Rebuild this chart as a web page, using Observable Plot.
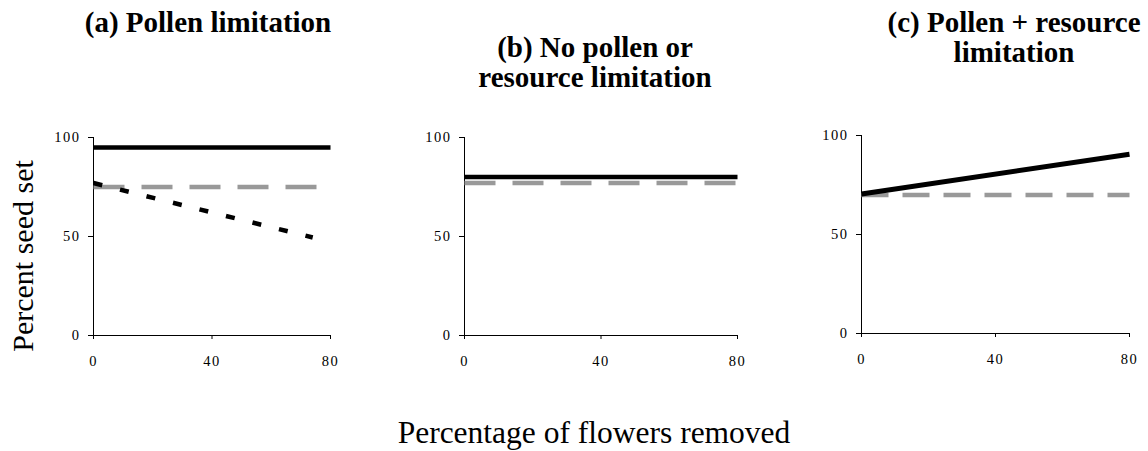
<!DOCTYPE html>
<html><head><meta charset="utf-8">
<script src="https://cdn.jsdelivr.net/npm/d3@7"></script>
<script src="https://cdn.jsdelivr.net/npm/@observablehq/plot@0.6"></script>
<style>
body{margin:0;background:#fff;}
#root{position:relative;width:1148px;height:451px;font-family:"Liberation Serif","Times New Roman",serif;color:#000;overflow:hidden;background:#fff}
.title{position:absolute;font-weight:bold;font-size:29px;line-height:30px;text-align:center;white-space:nowrap;transform:translateX(-50%)}
.axt{position:absolute;font-size:30px;line-height:30px;white-space:nowrap}
.panel{position:absolute}
#root svg text{font-family:"Liberation Serif","Times New Roman",serif !important;font-size:14.5px !important;letter-spacing:1.5px;fill:#000}
</style>
</head><body>
<div id="root">
  <div class="title" id="ta" style="left:208px;top:7px"></div>
  <div class="title" id="tb" style="left:595px;top:32px"></div>
  <div class="title" id="tc" style="left:1014px;top:7px"></div>
  <div class="axt" id="ylab" style="left:23px;top:256px;transform:translate(-50%,-50%) rotate(-90deg)"></div>
  <div class="axt" id="xlab" style="left:594px;top:418px;transform:translateX(-50%);font-size:31.5px"></div>
  <div class="panel" id="pa" style="left:0px;top:100px"></div>
  <div class="panel" id="pb" style="left:380px;top:100px"></div>
  <div class="panel" id="pc" style="left:780px;top:100px"></div>
</div>
<script>
// ---- data ----
const titles = ["(a) Pollen limitation", "(b) No pollen or\nresource limitation", "(c) Pollen + resource\nlimitation"];
const yTitle = "Percent seed set";
const xTitle = "Percentage of flowers removed";
const xTicks = [0, 40, 80];
const yTicks = [0, 50, 100];

// panel (a)
const aSolidX = [0, 80];   const aSolidY = [95, 95];
const aGrayX  = [0, 76];   const aGrayY  = [75, 75];
const aDashX  = [0, 74];   const aDashY  = [77, 49.5];
// panel (b)
const bSolidX = [0, 80];   const bSolidY = [80, 80];
const bGrayX  = [0, 79.5]; const bGrayY  = [77, 77];
// panel (c)
const cSolidX = [0, 80];   const cSolidY = [70.5, 90.5];
const cGrayX  = [0, 80];   const cGrayY  = [70, 70];

// ---- helpers ----
const pts = (xs, ys) => xs.map((x, i) => ({x, y: ys[i]}));
function setTitle(id, t){
  const el = document.getElementById(id);
  t.split("\n").forEach((line, i) => { if (i) el.appendChild(document.createElement("br")); el.appendChild(document.createTextNode(line)); });
}
setTitle("ta", titles[0]); setTitle("tb", titles[1]); setTitle("tc", titles[2]);
document.getElementById("ylab").textContent = yTitle;
document.getElementById("xlab").textContent = xTitle;

function panel(id, geom, series){
  const marks = [
    Plot.ruleY([0], {stroke: "#000", strokeWidth: 1}),
    Plot.ruleX([0], {stroke: "#000", strokeWidth: 1})
  ];
  for (const s of series) {
    marks.push(Plot.line(pts(s.x, s.y), {x: "x", y: "y", stroke: s.color, strokeWidth: s.width, strokeDasharray: s.dash, strokeLinecap: "butt"}));
  }
  const chart = Plot.plot({
    width: geom.width, height: geom.height,
    marginLeft: geom.ml, marginRight: geom.mr, marginTop: geom.mt, marginBottom: geom.mb,
    x: {domain: [0, 80], ticks: xTicks, tickSize: 4, tickPadding: 16, label: null},
    y: {domain: [0, 100], ticks: yTicks, tickSize: 5, tickPadding: 8, label: null},
    style: {fontFamily: "Liberation Serif, Times New Roman, serif", color: "#000", background: "transparent", overflow: "visible"},
    marks
  });
  document.getElementById(id).appendChild(chart);
}

panel("pa", {width: 350, height: 290, ml: 93, mr: 20, mt: 37, mb: 55}, [
  {x: aSolidX, y: aSolidY, color: "#000", width: 4.5},
  {x: aGrayX, y: aGrayY, color: "#999999", width: 4.5, dash: "31,17"},
  {x: aDashX, y: aDashY, color: "#000", width: 4.5, dash: "9,18.3"}
]);
panel("pb", {width: 380, height: 290, ml: 84, mr: 23, mt: 37, mb: 55}, [
  {x: bGrayX, y: bGrayY, color: "#999999", width: 4.5, dash: "31,17"},
  {x: bSolidX, y: bSolidY, color: "#000", width: 4.5}
]);
panel("pc", {width: 368, height: 290, ml: 81, mr: 19, mt: 35, mb: 57}, [
  {x: cGrayX, y: cGrayY, color: "#999999", width: 4.5, dash: "27,14"},
  {x: cSolidX, y: cSolidY, color: "#000", width: 5}
]);
</script>
</body></html>
